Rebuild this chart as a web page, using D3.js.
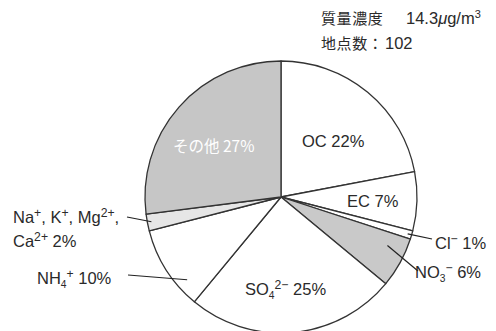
<!DOCTYPE html>
<html>
<head>
<meta charset="utf-8">
<script src="https://cdn.jsdelivr.net/npm/d3@7"></script>
<style>
  html, body { margin: 0; padding: 0; background: #fff; }
  svg text { font-family: "Liberation Sans", Arial, "Noto Sans CJK JP", sans-serif; fill: #2a2a2a; }
  .jp { font-family: "Noto Sans CJK JP", sans-serif; }
</style>
</head>
<body>
<svg id="chart" width="496" height="331"></svg>
<script>
// PM2.5 component shares (percent), clockwise from 12 o'clock
const components = ["OC", "EC", "Cl", "NO3", "SO4", "NH4", "NaKMgCa", "Other"];
const shares     = [22, 7, 1, 6, 25, 10, 2, 27];
const fills      = ["#ffffff", "#ffffff", "#ffffff", "#c9c9c9", "#ffffff", "#ffffff", "#e6e6e6", "#c6c6c6"];

const headerLines = ["質量濃度", "14.3", "地点数：102"];

const svg = d3.select("#chart");
const cx = 281, cy = 197, R = 136;

const pie = d3.pie().sort(null).value(d => d.v).startAngle(0).endAngle(2 * Math.PI);
const arcs = pie(components.map((k, i) => ({ k, v: shares[i], fill: fills[i] })));
const arc = d3.arc().innerRadius(0).outerRadius(R);

const g = svg.append("g").attr("transform", `translate(${cx},${cy})`);
g.selectAll("path.slice")
  .data(arcs)
  .join("path")
  .attr("class", "slice")
  .attr("d", arc)
  .attr("fill", d => d.data.fill)
  .attr("stroke", "#333")
  .attr("stroke-width", 1.3)
  .attr("stroke-linejoin", "round");

// point inside a slice at a given fraction of the slice angle and radius
function inside(d, t, rf) {
  const a = d.startAngle + (d.endAngle - d.startAngle) * t;
  return [Math.sin(a) * R * rf, -Math.cos(a) * R * rf];
}
const byKey = Object.fromEntries(arcs.map(d => [d.data.k, d]));

// leader lines for the narrow / outer-labelled slices
const leaders = [
  { k: "Cl",      t: 0.5, rf: 0.97, to: [432 - cx, 239 - cy] },
  { k: "NO3",     t: 0.3, rf: 0.86, to: [418 - cx, 271 - cy] },
  { k: "NaKMgCa", t: 0.5, rf: 0.97, to: [127 - cx, 217 - cy] },
  { k: "NH4",     t: 0.25, rf: 0.92, to: [128 - cx, 275 - cy] }
];
g.selectAll("line.leader")
  .data(leaders)
  .join("line")
  .attr("class", "leader")
  .attr("x1", d => inside(byKey[d.k], d.t, d.rf)[0])
  .attr("y1", d => inside(byKey[d.k], d.t, d.rf)[1])
  .attr("x2", d => d.to[0])
  .attr("y2", d => d.to[1])
  .attr("stroke", "#222")
  .attr("stroke-width", 1.2);

// header
const hdr = svg.append("g");
hdr.append("text").attr("class", "jp").attr("x", 321).attr("y", 24)
  .attr("font-size", 15).attr("letter-spacing", 0.6).text(headerLines[0]);
const t1 = hdr.append("text").attr("x", 406).attr("y", 24).attr("font-size", 16.5);
t1.append("tspan").text(headerLines[1]);
t1.append("tspan").attr("font-style", "italic").text("μ");
t1.append("tspan").text("g/m");
t1.append("tspan").attr("font-size", 11).attr("dy", -6).text("3");
hdr.append("text").attr("class", "jp").attr("x", 321).attr("y", 49)
  .attr("font-size", 15).attr("letter-spacing", 0.6).text("地点数：");
hdr.append("text").attr("x", 385).attr("y", 49).attr("font-size", 16.5).text("102");

const pct = k => shares[components.indexOf(k)] + "%";
const fs = 16.5;

// simple label helper: parts = [[text, kind]] where kind: "", "sup", "sub"
function label(x, y, parts, opts = {}) {
  const t = svg.append("text").attr("x", x).attr("y", y).attr("font-size", opts.size || fs)
    .attr("text-anchor", opts.anchor || "start");
  if (opts.fill) t.style("fill", opts.fill);
  if (opts.cls) t.attr("class", opts.cls);
  let shift = 0;
  parts.forEach(([s, kind]) => {
    const sp = t.append("tspan").text(s);
    if (kind === "sup") { sp.attr("font-size", fs * 0.74).attr("dy", -6 - shift); shift = -6; }
    else if (kind === "sub") { sp.attr("font-size", fs * 0.62).attr("dy", 4 - shift); shift = 4; }
    else { if (shift) sp.attr("dy", -shift); shift = 0; }
  });
  return t;
}

label(302, 147, [["OC " + pct("OC"), ""]]);
label(347, 207, [["EC " + pct("EC"), ""]]);
label(435, 249, [["Cl", ""], ["−", "sup"], [" " + pct("Cl"), ""]]);
label(415, 278, [["NO", ""], ["3", "sub"], ["−", "sup"], [" " + pct("NO3"), ""]]);
label(245, 295, [["SO", ""], ["4", "sub"], ["2−", "sup"], [" " + pct("SO4"), ""]]);
label(37, 284, [["NH", ""], ["4", "sub"], ["+", "sup"], [" " + pct("NH4"), ""]]);
label(13, 223, [["Na", ""], ["+", "sup"], [", K", ""], ["+", "sup"], [", Mg", ""], ["2+", "sup"], [",", ""]]);
label(13, 247, [["Ca", ""], ["2+", "sup"], [" " + pct("NaKMgCa"), ""]]);
label(173, 152, [["その他 " + pct("Other"), ""]], { fill: "#ffffff", cls: "jp", size: 15.5 });
</script>
</body>
</html>
